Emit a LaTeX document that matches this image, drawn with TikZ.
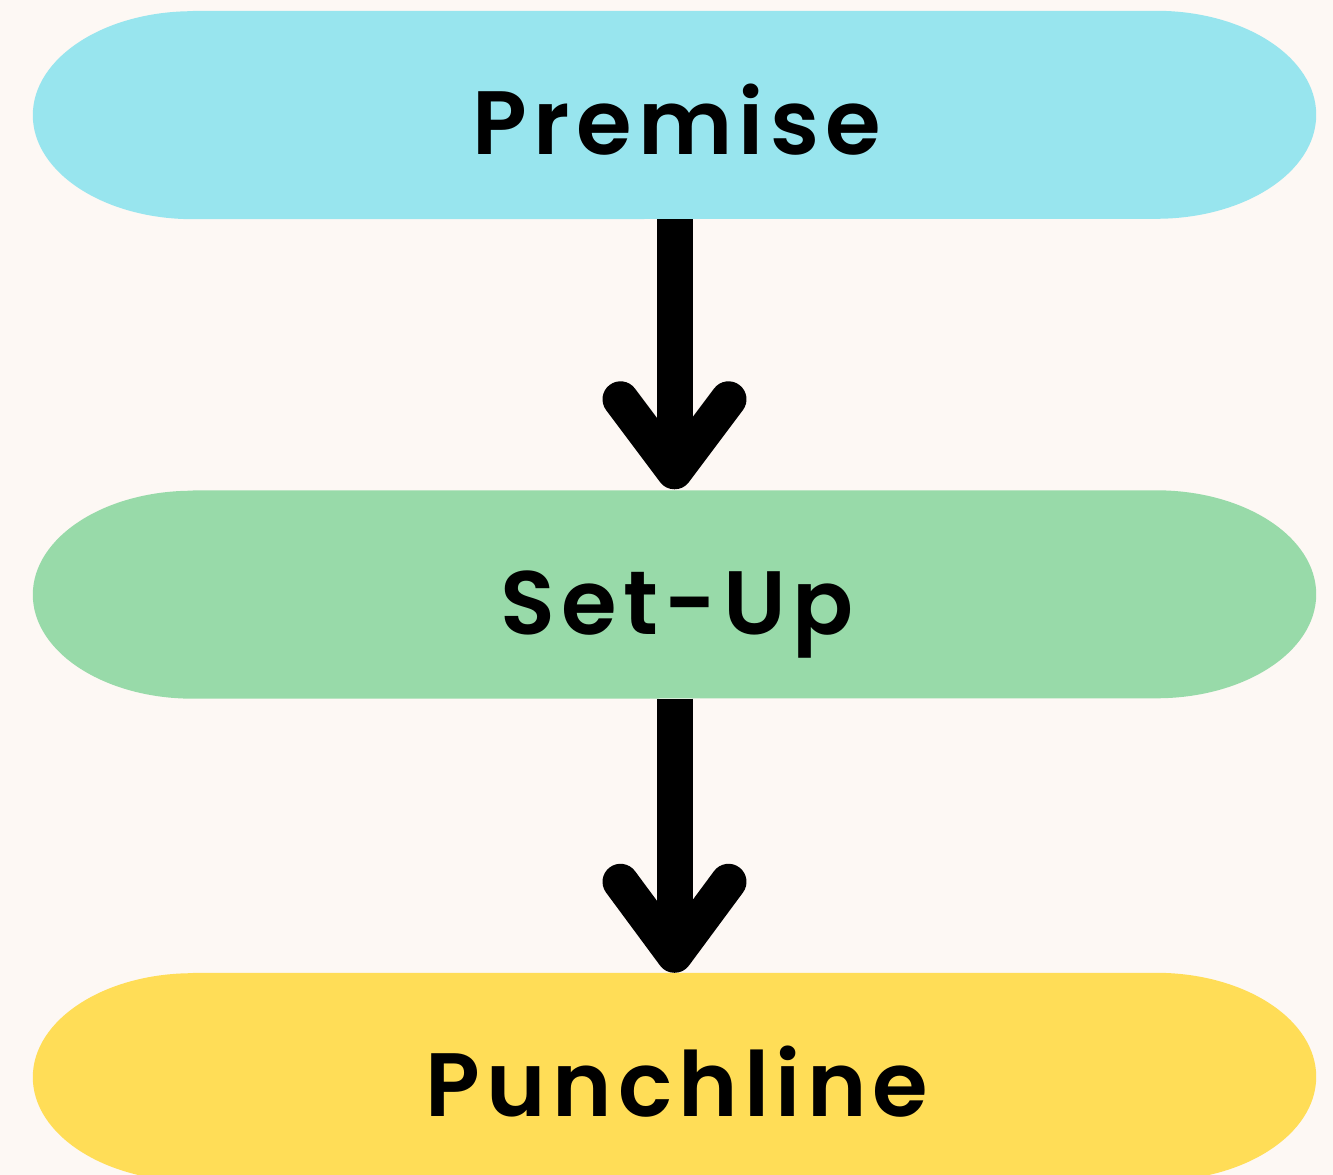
\documentclass[tikz,border=0pt]{standalone}
\usepackage{fontspec}
\newfontfamily\lblfont{Poppins SemiBold}[LetterSpace=7]
\usetikzlibrary{calc}
\definecolor{bg}{HTML}{FDF8F4}
\definecolor{cyanbox}{HTML}{98E5EE}
\definecolor{greenbox}{HTML}{98DAA9}
\definecolor{yellowbox}{HTML}{FFDD57}
\tikzset{
 capsule/.style={draw=none, minimum width=1283pt, minimum height=208pt, inner sep=0pt},
 lbl/.style={anchor=base, font=\lblfont\fontsize{90}{100}\selectfont, inner sep=0pt},
 shaft/.style={line width=36pt, line cap=butt},
 head/.style={line width=36pt, line cap=round, line join=round},
}
\newcommand\capfill[2]{\fill[#2] ($(#1.north west)+(160,0)$) -- ($(#1.north east)+(-160,0)$) arc[start angle=90,end angle=-90,x radius=160,y radius=104] -- ($(#1.south west)+(160,0)$) arc[start angle=270,end angle=90,x radius=160,y radius=104] -- cycle;}
\begin{document}
\begin{tikzpicture}[x=1pt,y=1pt]
\fill[bg] (0,0) rectangle (1333,1175);
\clip (0,0) rectangle (1333,1175);
\node[capsule] (p) at (674.5,1060) {};
\node[capsule] (s) at (674.5,580.5) {};
\node[capsule] (u) at (674.5,98) {};
\capfill{p}{cyanbox}
\capfill{s}{greenbox}
\capfill{u}{yellowbox}
\node[lbl] (pt) at (677,1020) {Premise};
\node[lbl] (st) at (677,540.5) {Set-Up};
\node[lbl] (ut) at (677,58) {Punchline};
\draw[shaft] (p.south) -- ($(s.north)+(0,19)$);
\draw[head] ($(s.north)+(-54,91)$) -- ($(s.north)+(0,19)$) -- ($(s.north)+(54,91)$);
\draw[shaft] (s.south) -- ($(u.north)+(0,18)$);
\draw[head] ($(u.north)+(-54,91)$) -- ($(u.north)+(0,18)$) -- ($(u.north)+(54,91)$);
\end{tikzpicture}
\end{document}
